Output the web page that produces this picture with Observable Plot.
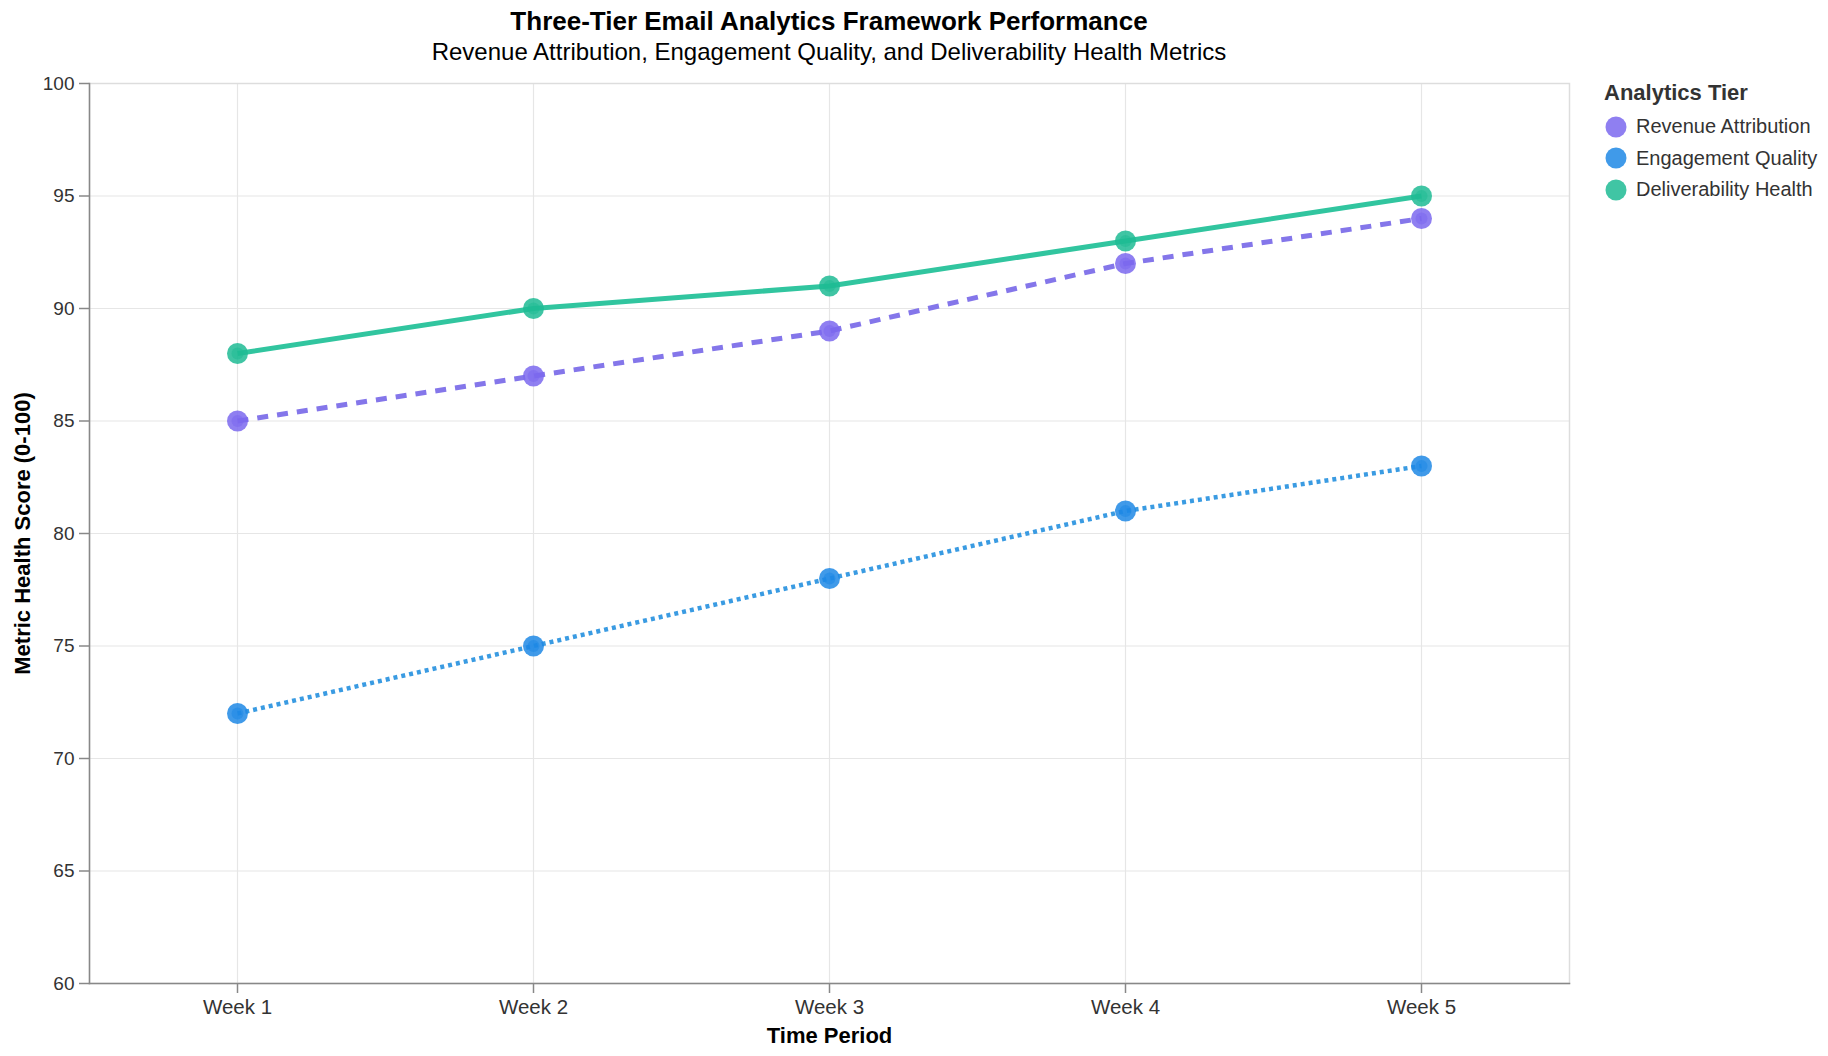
<!DOCTYPE html>
<html>
<head>
<meta charset="utf-8">
<script src="https://cdn.jsdelivr.net/npm/d3@7"></script>
<script src="https://cdn.jsdelivr.net/npm/@observablehq/plot@0.6"></script>
<style>
  html, body { margin: 0; padding: 0; background: #fff; }
  body { font-family: "Liberation Sans", Arial, Helvetica, sans-serif; }
  #wrap { position: relative; width: 1828px; height: 1056px; overflow: hidden; }
  #header { position: relative; height: 70px; }
  .t { position: absolute; white-space: nowrap; transform: translate(-50%, -50%); color: #000; }
  #title { left: 829px; top: 21px; font-size: 26px; font-weight: bold; }
  #subtitle { left: 829px; top: 52px; font-size: 24px; }
  #legend { position: absolute; left: 1604px; top: 78px; color: #333; }
  #legend .lt { font-size: 22px; font-weight: bold; height: 33px; line-height: 30px; }
  #legend .item { display: flex; align-items: center; height: 31.5px; font-size: 20px; }
  #legend svg { margin-right: 8px; }
</style>
</head>
<body>
<div id="wrap">
  <div id="header">
    <div id="title" class="t">Three-Tier Email Analytics Framework Performance</div>
    <div id="subtitle" class="t">Revenue Attribution, Engagement Quality, and Deliverability Health Metrics</div>
  </div>
  <div id="chart"></div>
  <div id="legend"></div>
</div>
<script>
const weeks = ["Week 1", "Week 2", "Week 3", "Week 4", "Week 5"];
const tiers = ["Revenue Attribution", "Engagement Quality", "Deliverability Health"];
const revenue = [85, 87, 89, 92, 94];
const engagement = [72, 75, 78, 81, 83];
const deliverability = [88, 90, 91, 93, 95];
const yTicks = [60, 65, 70, 75, 80, 85, 90, 95, 100];
const lineColors = ["#8476ea", "#3a9be2", "#31c59f"];
const dotColors = ["#7b68ee", "#1e88e5", "#1fbb94"];
const dashes = ["11,9", "4,4", null];
const widths = [5, 4.5, 5];

const seriesValues = [revenue, engagement, deliverability];
const data = tiers.flatMap((tier, i) => weeks.map((w, j) => ({tier, week: w, value: seriesValues[i][j]})));

const lineMarks = tiers.map((tier, i) => Plot.line(data.filter(d => d.tier === tier), {
  x: "week", y: "value", stroke: lineColors[i], strokeWidth: widths[i],
  strokeDasharray: dashes[i] || undefined, strokeLinecap: "butt"
}));
const dotMarks = tiers.flatMap((tier, i) => [
  Plot.dot(data.filter(d => d.tier === tier), {x: "week", y: "value", r: 10.5, fill: dotColors[i], fillOpacity: 0.85, stroke: "none"}),
  Plot.dot(data.filter(d => d.tier === tier), {x: "week", y: "value", r: 6, fill: dotColors[i], fillOpacity: 0.55, stroke: "none"})
]);

const chart = Plot.plot({
  width: 1828,
  height: 986,
  marginTop: 13,
  marginBottom: 73,
  marginLeft: 89,
  marginRight: 259,
  style: {fontFamily: '"Liberation Sans", Arial, sans-serif', color: "#000", background: "#fff"},
  x: {type: "point", domain: weeks, padding: 0.5, label: null},
  y: {domain: [60, 100], label: null},
  marks: [
    Plot.gridX({stroke: "#e6e6e6", strokeOpacity: 1, strokeWidth: 1.2}),
    Plot.gridY(yTicks, {stroke: "#e6e6e6", strokeOpacity: 1, strokeWidth: 1.2}),
    Plot.frame({stroke: "#dddddd", strokeWidth: 1.5}),
    Plot.frame({anchor: "left", stroke: "#888", strokeWidth: 1.5}),
    Plot.frame({anchor: "bottom", stroke: "#888", strokeWidth: 1.5}),
    Plot.axisY(yTicks, {tickSize: 10, tickPadding: 5, fontSize: 19, stroke: "#888", strokeWidth: 1.5, fill: "#333", label: null}),
    Plot.axisX({tickSize: 10, tickPadding: 6, fontSize: 20.5, stroke: "#888", strokeWidth: 1.5, fill: "#333", label: null}),
    Plot.text(["Metric Health Score (0-100)"], {frameAnchor: "left", dx: -67, rotate: -90, textAnchor: "middle", lineAnchor: "middle", fontSize: 22, fontWeight: "bold", fill: "#000"}),
    Plot.text(["Time Period"], {frameAnchor: "bottom", dy: 52, textAnchor: "middle", lineAnchor: "middle", fontSize: 22, fontWeight: "bold", fill: "#000"}),
    ...lineMarks,
    ...dotMarks
  ]
});
document.getElementById("chart").appendChild(chart);

// Legend
const legend = document.getElementById("legend");
const lt = document.createElement("div");
lt.className = "lt";
lt.textContent = "Analytics Tier";
legend.appendChild(lt);
tiers.forEach((tier, i) => {
  const item = document.createElement("div");
  item.className = "item";
  const svg = d3.create("svg").attr("width", 24).attr("height", 24);
  svg.append("circle").attr("cx", 12).attr("cy", 12).attr("r", 10.5).attr("fill", dotColors[i]).attr("fill-opacity", 0.85);
  item.appendChild(svg.node());
  const span = document.createElement("span");
  span.textContent = tier;
  item.appendChild(span);
  legend.appendChild(item);
});
</script>
</body>
</html>
